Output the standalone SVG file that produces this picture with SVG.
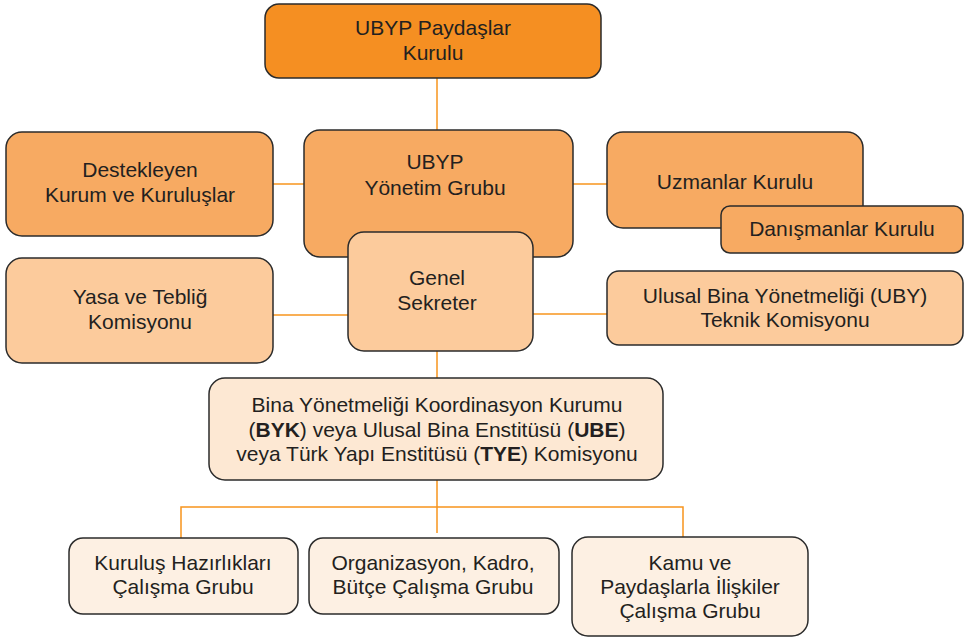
<svg xmlns="http://www.w3.org/2000/svg" width="971" height="637" viewBox="0 0 971 637">
<style>
.b{stroke:#2b2b2b;stroke-width:1.5}
.c1{fill:#F58F22}
.c2{fill:#F7AA62}
.c3{fill:#FCCB9C}
.c4{fill:#FDE8D3}
.c5{fill:#FDF0E3}
text{font-family:"Liberation Sans",Arial,sans-serif;font-size:21px;fill:#231F20;text-anchor:middle}
.ln{stroke:#F7941D;stroke-width:1.5;fill:none}
</style>
<rect x="0" y="0" width="971" height="637" fill="#fff"/>
<g id="connectors">
<line class="ln" x1="437" y1="78" x2="437" y2="131"/>
<line class="ln" x1="273" y1="184" x2="304" y2="184"/>
<line class="ln" x1="573" y1="184" x2="607" y2="184"/>
<line class="ln" x1="273" y1="315" x2="348" y2="315"/>
<line class="ln" x1="533" y1="314" x2="607" y2="314"/>
<line class="ln" x1="437" y1="351" x2="437" y2="378"/>
<line class="ln" x1="437" y1="480" x2="437" y2="533"/>
<polyline class="ln" points="181,538 181,507 683,507 683,537"/>
</g>
<g id="n1"><rect class="b c1" x="265" y="4" width="336" height="74" rx="14"/>
<text x="433" y="35">UBYP Paydaşlar</text><text x="433" y="60">Kurulu</text></g>
<g id="n2"><rect class="b c2" x="6" y="132" width="267" height="104" rx="16"/>
<text x="140" y="177">Destekleyen</text><text x="140" y="202">Kurum ve Kuruluşlar</text></g>
<g id="n3"><rect class="b c2" x="304" y="130" width="269" height="127" rx="16"/>
<text x="435" y="169">UBYP</text><text x="435" y="195">Yönetim Grubu</text></g>
<g id="n4"><rect class="b c2" x="607" y="132" width="256" height="96" rx="16"/>
<text x="735" y="189">Uzmanlar Kurulu</text></g>
<g id="n5"><rect class="b c2" x="721" y="206" width="242" height="47" rx="9"/>
<text x="842" y="236">Danışmanlar Kurulu</text></g>
<g id="n6"><rect class="b c3" x="348" y="232" width="185" height="119" rx="16"/>
<text x="437" y="285">Genel</text><text x="437" y="310">Sekreter</text></g>
<g id="n7"><rect class="b c3" x="6" y="258" width="267" height="105" rx="16"/>
<text x="140" y="304">Yasa ve Tebliğ</text><text x="140" y="329">Komisyonu</text></g>
<g id="n8"><rect class="b c3" x="607" y="271" width="356" height="74" rx="12"/>
<text x="785" y="303">Ulusal Bina Yönetmeliği (UBY)</text><text x="785" y="327">Teknik Komisyonu</text></g>
<g id="n9"><rect class="b c4" x="209" y="378" width="454" height="102" rx="16"/>
<text x="437" y="412">Bina Yönetmeliği Koordinasyon Kurumu</text>
<text x="437" y="437">(<tspan font-weight="bold">BYK</tspan>) veya Ulusal Bina Enstitüsü (<tspan font-weight="bold">UBE</tspan>)</text>
<text x="437" y="461">veya Türk Yapı Enstitüsü (<tspan font-weight="bold">TYE</tspan>) Komisyonu</text></g>
<g id="n10"><rect class="b c5" x="69" y="538" width="229" height="76" rx="14"/>
<text x="183" y="570">Kuruluş Hazırlıkları</text><text x="183" y="594">Çalışma Grubu</text></g>
<g id="n11"><rect class="b c5" x="309" y="538" width="250" height="76" rx="14"/>
<text x="433" y="570">Organizasyon, Kadro,</text><text x="433" y="594">Bütçe Çalışma Grubu</text></g>
<g id="n12"><rect class="b c5" x="572" y="537" width="236" height="99" rx="16"/>
<text x="690" y="570">Kamu ve</text><text x="690" y="594">Paydaşlarla İlişkiler</text><text x="690" y="618">Çalışma Grubu</text></g>
</svg>
